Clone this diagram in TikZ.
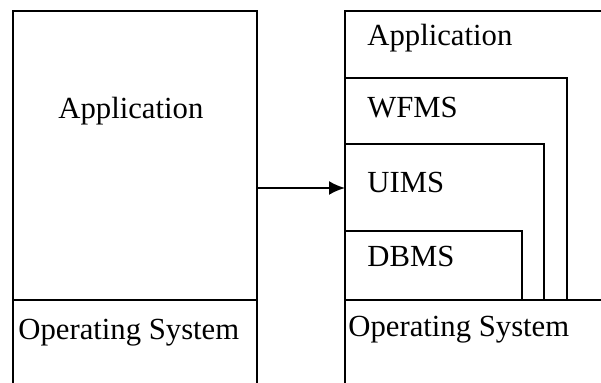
\documentclass[tikz,border=0pt]{standalone}
\usepackage{fontspec}
\setmainfont{Liberation Serif}
\usetikzlibrary{arrows.meta}

\begin{document}
\begin{tikzpicture}[x=0.5pt,y=-0.5pt,
        layer/.style={draw=black,line width=1pt},
        layertext/.style={anchor=base west,inner sep=0pt,font=\fontsize{15.35}{18}\selectfont}
    ]
    \useasboundingbox (0,0) rectangle (601,383);

    % plain stack
    \draw[layer] (13,383) -- (13,11) -- (257,11) -- (257,383);
    \draw[layer] (13,300) -- (257,300);
    \node[layertext] (app) at (58,119) {Application};
    \node[layertext] (os) at (18,340) {Operating System};

    % layered stack
    \draw[layer] (345,383) -- (345,11) -- (601,11);
    \draw[layer] (345,78) -- (567,78) -- (567,300);
    \draw[layer] (345,144) -- (544,144) -- (544,300);
    \draw[layer] (345,231) -- (522,231) -- (522,300);
    \draw[layer] (345,300) -- (601,300);
    \node[layertext] (app2) at (367,46) {Application};
    \node[layertext] (wfms) at (367,118) {WFMS};
    \node[layertext] (uims) at (367,193) {UIMS};
    \node[layertext] (dbms) at (367,267) {DBMS};
    \node[layertext] (os2) at (348,337) {Operating System};

    \coordinate (plain) at (257,188);
    \coordinate (layered) at (345,188);
    \draw[layer,-{Latex[length=8pt,width=7pt]}] (plain) -- (layered);
\end{tikzpicture}
\end{document}
